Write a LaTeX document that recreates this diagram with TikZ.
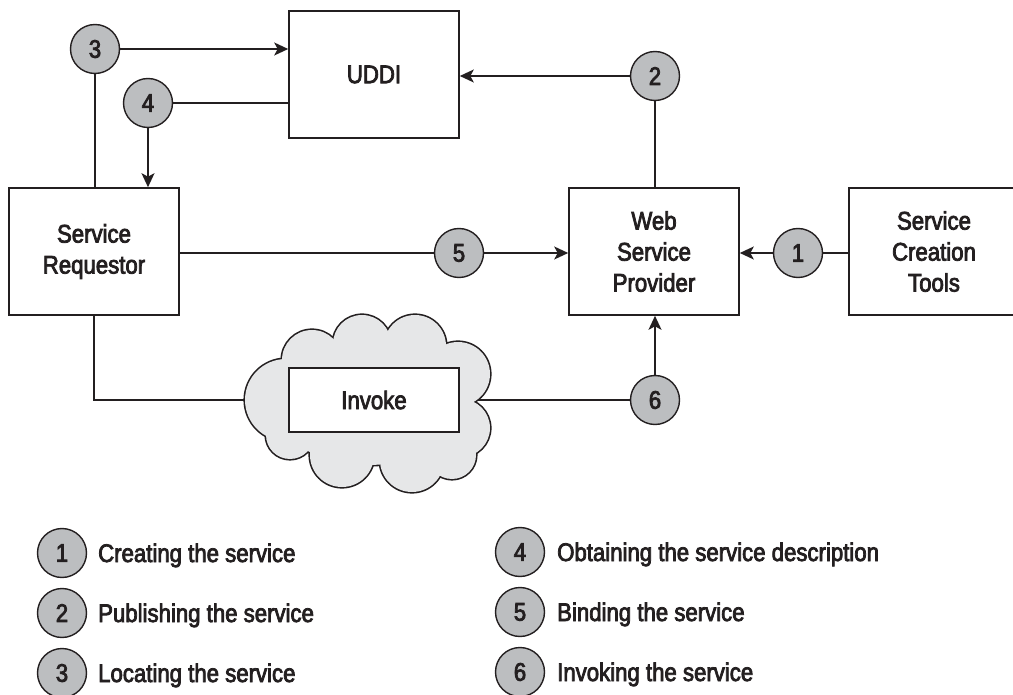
\documentclass[tikz,border=0pt]{standalone}
\usepackage{fontspec}
\setmainfont{Liberation Sans}[FakeStretch=0.87, FakeBold=3]
\usetikzlibrary{arrows.meta,calc}
\pgfdeclarelayer{bg}
\pgfsetlayers{bg,main}
\definecolor{ink}{HTML}{231F20}
\definecolor{badge}{HTML}{BCBEC0}
\definecolor{cloudfill}{HTML}{E6E7E8}

\begin{document}
\begin{tikzpicture}[x=1pt,y=-1pt,
  every node/.style={text=ink, font=\fontsize{25.5}{31}\selectfont},
  box/.style={draw=ink, line width=1.6pt, fill=white, minimum width=170pt,
              minimum height=127pt, align=center, inner sep=0pt},
  num/.style={circle, draw=ink, line width=1.4pt, fill=badge,
              minimum size=49pt, inner sep=0pt},
  link/.style={draw=ink, line width=1.8pt},
  arr/.style={link, -{Stealth[length=14pt,width=13pt,inset=3.5pt]}},
  legend/.style={anchor=base west, inner sep=0pt},
]
\useasboundingbox (0,0) rectangle (1013,695);
\clip (0,0) rectangle (1013,695);
\begin{pgfonlayer}{bg}
  \fill[white] (0,0) rectangle (1013,695);
\end{pgfonlayer}

% main blocks
\node[box] (uddi) at (374,74.5) {UDDI};
\node[box] (sr)   at (94,251.5)  {Service\\Requestor};
\node[box] (wsp)  at (654,251.5) {Web\\Service\\Provider};
\node[box] (sct)  at (934,251.5) {Service\\Creation\\Tools};

% numbered steps
\node[num] (n3) at (95,49)   {3};
\node[num] (n4) at (148,103) {4};
\node[num] (n2) at (655,76)  {2};
\node[num] (n5) at (459,253) {5};
\node[num] (n1) at (798,253) {1};
\node[num] (n6) at (655,400) {6};

% network cloud: stroked discs, then filled discs on top leave the outer rim
\def\puffs{286/400/41, 312/360/30, 362/344/29, 415/346/31, 458/374/32,
           461/428/29, 452/455/24, 412/460/32, 342/455/32, 290/435/24}
\foreach \cx/\cy/\r in \puffs
  \draw[ink, line width=3.2pt] (\cx,\cy) circle[radius=\r pt];
\draw[ink, line width=3.2pt] (368,403) ellipse[x radius=95pt, y radius=62pt];
\foreach \cx/\cy/\r in \puffs
  \fill[cloudfill] (\cx,\cy) circle[radius=\r pt];
\fill[cloudfill] (368,403) ellipse[x radius=95pt, y radius=62pt];

\node[box, minimum height=64pt] (inv) at (374,400) {Invoke};

% connectors
\draw[arr]  (n3.east) -- (n3.east -| uddi.west);
\draw[link] (n3.south) -- (n3.south |- sr.north);
\draw[link] (n4.east) -- (n4.east -| uddi.west);
\draw[arr]  (n4.south) -- (n4.south |- sr.north);
\draw[arr]  (n2.west) -- (n2.west -| uddi.east);
\draw[link] (n2.south) -- (n2.south |- wsp.north);
\draw[link] (n5.west -| sr.east) -- (n5.west);
\draw[arr]  (n5.east) -- (n5.east -| wsp.west);
\draw[link] (n1.east) -- (n1.east -| sct.west);
\draw[arr]  (n1.west) -- (n1.west -| wsp.east);
\draw[arr]  (n6.north) -- (n6.north |- wsp.south);
\begin{pgfonlayer}{bg}
  \draw[link] (sr.south) |- (inv.west);
  \draw[link] (n6.west) -- (inv.east);
\end{pgfonlayer}

% legend
\node[num] (l1) at (62,553)  {1};
\node[num] (l2) at (62,613)  {2};
\node[num] (l3) at (62,673)  {3};
\node[num] (l4) at (520,552) {4};
\node[num] (l5) at (520,612) {5};
\node[num] (l6) at (520,672) {6};
\node[legend] (t1) at (98,562)  {Creating the service};
\node[legend] (t2) at (98,622)  {Publishing the service};
\node[legend] (t3) at (98,682)  {Locating the service};
\node[legend] (t4) at (557,561) {Obtaining the service description};
\node[legend] (t5) at (557,621) {Binding the service};
\node[legend] (t6) at (557,681) {Invoking the service};
\end{tikzpicture}
\end{document}
